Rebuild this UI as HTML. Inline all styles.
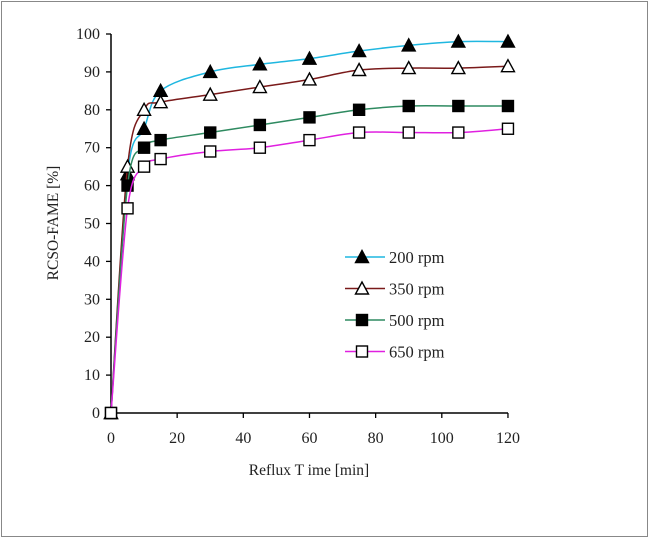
<!DOCTYPE html><html><head><meta charset="utf-8"><style>
body{margin:0;background:#fff;width:650px;height:539px;overflow:hidden}
svg{font-family:"Liberation Serif",serif}
</style></head><body>
<svg id="s" width="650" height="539" xmlns="http://www.w3.org/2000/svg">
<rect x="1.5" y="1.5" width="646" height="535" fill="#fff" stroke="#888" stroke-width="1"/>
</svg>
<script>
var s=document.getElementById('s'),h='';
function px(x){return 111+x*3.308}function py(y){return 413-y*3.79}
h+='<line x1="111" y1="34" x2="111" y2="413" stroke="#000" stroke-width="1.5"/>';
h+='<line x1="111" y1="413" x2="508" y2="413" stroke="#000" stroke-width="1.5"/>';
for(var v=0;v<=100;v+=10){var y=py(v);h+='<line x1="106" y1="'+y+'" x2="111" y2="'+y+'" stroke="#000" stroke-width="1.3"/><text x="100" y="'+(y+5)+'" font-size="16" text-anchor="end" fill="#222">'+v+'</text>';}
for(var v=0;v<=120;v+=20){var x=px(v);h+='<line x1="'+x+'" y1="413" x2="'+x+'" y2="418" stroke="#000" stroke-width="1.3"/><text x="'+x+'" y="443" font-size="16" text-anchor="middle" fill="#222">'+v+'</text>';}
h+='<text x="309" y="475" font-size="15.5" text-anchor="middle" fill="#222">Reflux T ime [min]</text>';
h+='<text transform="translate(58,223) rotate(-90)" font-size="15.5" text-anchor="middle" fill="#222">RCSO-FAME [%]</text>';
var X=[0,5,10,15,30,45,60,75,90,105,120];
var S=[
{c:'#1fb7e0',m:'tf',d:[0,63,75,85,90,92,93.5,95.5,97,98,98],n:'200 rpm'},
{c:'#7a1a1a',m:'to',d:[0,65,80,82,84,86,88,90.5,91,91,91.5],n:'350 rpm'},
{c:'#2e8a60',m:'sf',d:[0,60,70,72,74,76,78,80,81,81,81],n:'500 rpm'},
{c:'#e020e0',m:'so',d:[0,54,65,67,69,70,72,74,74,74,75],n:'650 rpm'}];
function mk(m,x,y){if(m[0]=='t'){return '<polygon points="'+x+','+(y-6.5)+' '+(x-6.5)+','+(y+5.5)+' '+(x+6.5)+','+(y+5.5)+'" fill="'+(m[1]=='f'?'#000':'#fff')+'" stroke="#000" stroke-width="1.4"/>'}
return '<rect x="'+(x-5.5)+'" y="'+(y-5.5)+'" width="11" height="11" fill="'+(m[1]=='f'?'#000':'#fff')+'" stroke="#000" stroke-width="1.4"/>'}
S.forEach(function(o,k){var P=X.map(function(x,i){return [px(x),py(o.d[i])]});
var d='M'+P[0];for(var i=0;i<P.length-1;i++){var p0=P[i-1]||P[i],p1=P[i],p2=P[i+1],p3=P[i+2]||P[i+1];
var c1=[p1[0]+(p2[0]-p0[0])/6,p1[1]+(p2[1]-p0[1])/6],c2=[p2[0]-(p3[0]-p1[0])/6,p2[1]-(p3[1]-p1[1])/6];d+=' C'+c1+' '+c2+' '+p2;}
h+='<path d="'+d+'" fill="none" stroke="'+o.c+'" stroke-width="1.5"/>';
P.forEach(function(p){h+=mk(o.m,p[0],p[1])});
var ly=257+k*31.5;h+='<line x1="345" y1="'+ly+'" x2="385" y2="'+ly+'" stroke="'+o.c+'" stroke-width="1.5"/>'+mk(o.m,362,ly)+'<text x="389" y="'+(ly+6)+'" font-size="16.5" fill="#222">'+o.n+'</text>';});
s.innerHTML+=h;
</script></body></html>
